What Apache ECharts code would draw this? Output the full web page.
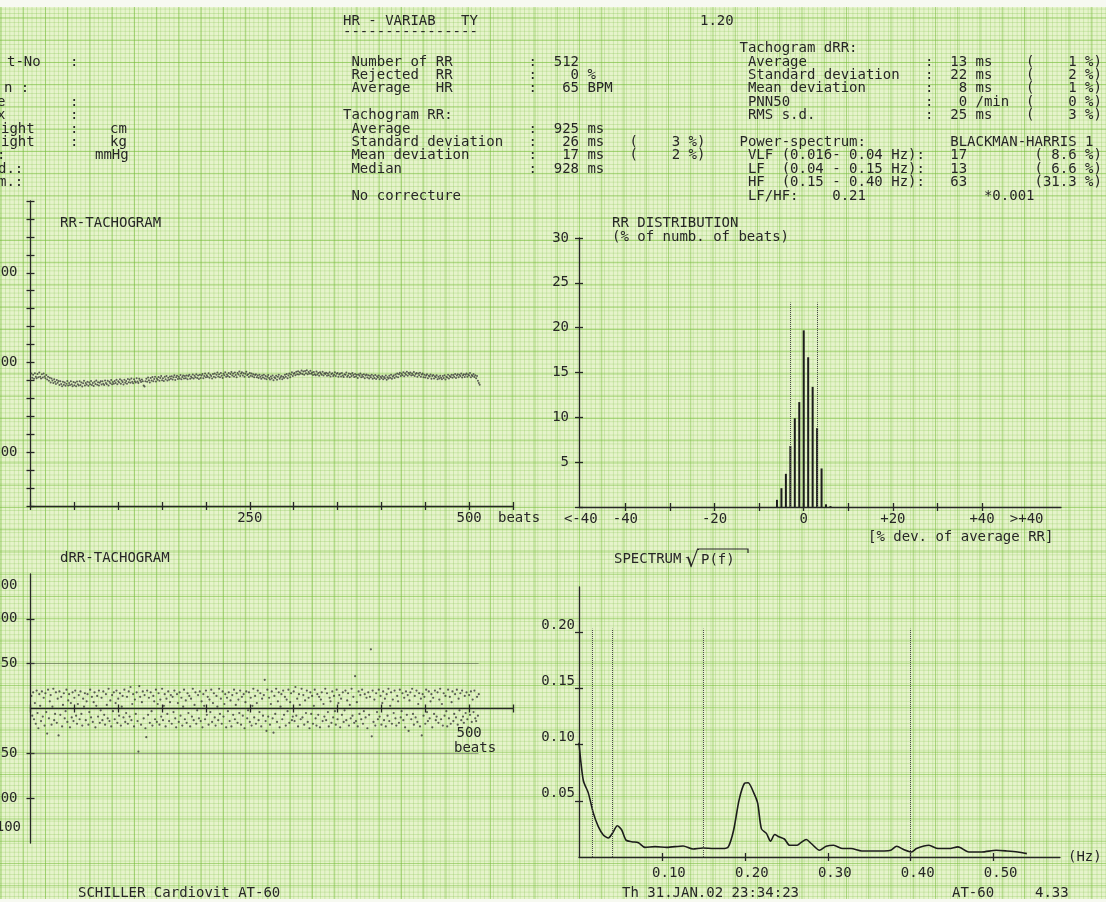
<!DOCTYPE html>
<html><head><meta charset="utf-8">
<script src="https://cdn.jsdelivr.net/npm/echarts@6/dist/echarts.min.js"></script>
<style>
html,body{margin:0;padding:0;width:1106px;height:902px;overflow:hidden;background:#f7f9f1;}
#paper{position:absolute;left:0;top:7px;width:1106px;height:892px;background-color:#e6f3cb;
background-image:
 linear-gradient(to right, rgba(118,188,58,.55) 1px, transparent 1px),
 linear-gradient(to bottom, rgba(118,188,58,.55) 1px, transparent 1px),
 linear-gradient(to right, rgba(140,200,90,.33) 1px, transparent 1px),
 linear-gradient(to bottom, rgba(140,200,90,.33) 1px, transparent 1px);
background-size:22.25px 22.25px,22.25px 22.25px,4.45px 4.45px,4.45px 4.45px;
background-position:0.5px 10.5px,0.5px 10.5px,0.5px 10.5px,0.5px 10.5px;}
#chart{position:absolute;left:0;top:0;width:1106px;height:902px;}
</style></head><body><div id="paper"></div><div id="chart"></div>
<script>
// ---------- data ----------
const rrValues = [
938,915,931,909,940,921,912,936,918,944,920,911,934,916,939,922,
912,930,905,921,898,915,889,910,900,885,906,893,880,902,887,897,
874,895,880,868,893,876,889,870,882,897,871,886,874,895,879,868,
891,873,887,868,894,879,871,896,875,889,866,884,898,872,885,877,
893,870,888,879,897,874,886,869,892,880,899,876,890,871,887,895,
877,896,882,874,900,886,879,898,871,893,884,902,878,891,881,897,
885,903,879,896,888,906,881,899,891,877,904,887,897,882,908,890,
903,887,910,893,884,907,896,889,912,894,886,909,899,891,905,896,
872,866,895,909,893,916,901,889,914,899,919,896,908,921,894,911,
903,919,898,914,924,901,912,897,920,906,925,900,915,904,922,909,
923,905,918,929,902,917,926,908,921,911,930,906,919,927,910,924,
912,928,907,924,931,909,922,915,933,910,926,918,935,913,927,908,
931,914,928,936,912,925,938,917,929,920,940,915,932,924,911,936,
920,939,916,931,944,922,935,918,941,926,913,937,929,945,921,933,
925,942,919,936,947,928,939,922,944,930,918,941,933,949,924,938,
946,927,940,921,937,948,929,935,919,942,926,938,923,934,917,930,
935,918,928,914,931,920,909,927,916,932,911,925,906,921,930,913,
905,922,910,927,901,918,912,926,903,920,931,909,917,925,906,921,
914,931,920,936,912,928,939,918,933,945,924,937,942,929,948,934,
951,933,946,938,955,936,949,931,953,940,957,934,947,939,954,937,
944,930,947,935,929,950,933,942,926,945,938,931,948,927,940,936,
943,926,938,929,945,922,936,940,924,931,946,925,937,941,921,933,
938,922,941,927,919,935,932,944,921,928,939,917,936,925,942,930,
919,936,922,931,914,933,926,938,917,930,921,935,912,928,933,916,
929,911,926,917,932,909,924,914,930,908,923,916,928,906,921,913,
925,906,919,912,927,903,918,911,926,915,931,909,922,928,914,933,
922,939,917,934,943,925,937,929,946,923,940,932,948,926,941,935,
944,927,939,930,947,924,936,941,921,938,929,943,920,933,939,918,
931,916,928,935,912,926,922,933,909,924,930,911,923,918,929,907,
921,910,926,915,907,924,913,929,905,920,916,931,911,925,919,932,
915,930,921,936,913,927,934,918,932,924,938,916,929,935,919,931,
938,920,933,927,941,917,930,924,936,919,929,912,924,898,885,876
];
const drrValues = [
14,-8,18,-12,6,-17,20,-5,-22,16,3,-14,19,-9,12,-19,
17,-4,-28,21,-11,8,15,-18,2,22,-13,-6,18,-16,11,-30,
19,-7,13,-20,4,17,-11,-3,21,-15,9,16,-21,6,-10,18,
-14,12,20,-8,-17,5,15,-12,19,-6,-19,11,2,17,-13,8,
16,-18,-4,21,-10,13,-15,7,18,-21,3,14,-9,20,-16,-2,
12,-13,19,-7,-18,16,4,-11,22,-14,9,-20,15,-3,18,-12,
6,20,-16,11,-8,17,-19,2,14,-10,21,-15,-5,13,-17,19,
-9,24,-13,5,16,-20,10,-6,18,-14,-48,25,13,-18,7,19,
-11,15,-22,-32,20,-7,12,-16,18,-3,-19,14,8,-12,21,-15,
5,17,-18,10,-9,22,-13,3,16,-20,11,-6,19,-14,7,15,
-17,13,-4,20,-11,-21,16,6,-15,18,-8,12,-19,2,21,-12,
9,-16,17,-5,14,-20,11,-9,22,-13,4,18,-17,-2,15,-11,
19,-14,8,-21,16,3,-12,20,-7,13,-18,10,-4,21,-15,6,
17,-10,-19,14,2,-13,22,-6,11,-17,19,-9,5,16,-21,12,
-3,18,-14,9,-20,15,-7,21,-12,4,17,-16,10,-5,20,-18,
13,-8,16,-22,7,19,-11,-2,18,-15,12,-19,3,22,-10,14,
-17,6,20,-13,-4,17,-20,11,-8,15,32,-14,-25,21,-9,12,
-18,5,19,-11,-27,14,-6,22,-15,8,18,-21,2,16,-12,20,
-7,13,-19,10,-3,21,-16,7,17,-13,-9,19,-14,24,-8,11,
-20,16,4,-12,22,-10,15,-18,9,-5,20,-15,12,-22,18,-6,
14,-17,3,21,-11,-19,16,-7,13,-21,10,18,-14,5,-9,22,
-13,17,-4,-20,12,8,-16,19,-10,14,-3,-18,21,-12,6,15,
-21,11,-7,18,-15,-2,20,-13,9,17,-19,4,-11,22,-8,13,
-16,36,-14,7,-20,19,-6,15,-12,21,-17,-3,16,-10,12,-22,
18,-7,13,66,-31,20,-15,10,-19,17,-4,-12,21,-9,14,-18,
6,19,-13,11,-20,16,-8,22,-14,3,18,-17,10,-5,20,-11,
-19,14,8,-16,21,-10,-3,17,-13,12,-21,19,-7,15,-25,9,
18,-12,22,-6,-18,14,-10,20,-15,5,17,-20,11,-30,16,-8,
13,-17,21,-4,-14,19,-11,8,16,-21,12,-6,20,-13,-9,18,
-16,10,22,-12,5,-19,17,-8,14,-3,-20,21,-11,13,-17,7,
19,-14,-6,16,-10,21,-18,11,-2,17,-13,20,-9,-16,14,-5,
18,-12,-21,15,-7,19,-15,10,-4,20,-11,-14,13,-8,16
];
const histBins = [-6,-5,-4,-3,-2,-1,0,1,2,3,4,5,6];
const histPct  = [0.8,2.1,3.7,6.8,9.9,11.7,19.7,16.7,13.4,8.8,4.3,0.3,0.1];
const histSdLines = [-3, 3];
const specFreq = [0,0.0052,0.0112,0.0173,0.0233,0.0293,0.0354,0.0414,0.0462,0.0515,0.0567,0.0636,0.0716,0.0796,0.0917,0.1058,0.1255,0.1375,
 0.149,0.1625,0.173,0.18,0.1865,0.193,0.1996,0.204,0.211,0.2155,0.22,0.226,0.231,0.236,0.241,0.2476,0.254,0.263,0.268,0.274,0.280,0.29,0.298,0.307,
 0.318,0.328,0.341,0.355,0.368,0.376,0.383,0.392,0.401,0.407,0.422,0.433,0.446,0.457,0.470,0.4855,0.503,0.516,0.529,0.540];
const specAmp = [0.1016,0.068,0.057,0.039,0.027,0.0196,0.0169,0.0225,0.0278,0.024,0.015,0.0136,0.0127,0.0086,0.0092,0.0086,0.0098,0.0071,
 0.008,0.0075,0.0075,0.009,0.024,0.0506,0.0655,0.066,0.0565,0.0476,0.025,0.021,0.014,0.020,0.018,0.016,0.0104,0.0104,0.013,0.0155,0.012,0.006,0.0095,0.0104,
 0.0075,0.0075,0.0054,0.0054,0.0054,0.006,0.0095,0.0065,0.0045,0.0075,0.0104,0.0075,0.0075,0.009,0.0045,0.0045,0.006,0.0054,0.0045,0.003];
const specBandLines = [0.016, 0.04, 0.15, 0.40];
const specBandTop = 0.203;
const histSdTop = 22.8;
const drrLimitLines = [50, -50];
const beatLabels = [250, 500];
const rrYLabels = [500, 1000, 1500];
const histXTicks = [-40,-30,-20,-10,0,10,20,30,40];
const histXLabelValues = [-50,-40,-20,0,20,40,50];
const histXLabelText = ['<-40','-40','-20','0','+20','+40','>+40'];
const drrYTicks = [-100,-50,50,100];
const drrYLabels = [100,50,-50,-100];
const specXTicks = [0.1,0.2,0.3,0.4,0.5];
const specYTicks = [0.05,0.10,0.15,0.20];

// ---------- styling ----------
const FONT = '"DejaVu Sans Mono","Liberation Mono",monospace';
const INK = '#262626';
const lblStyle = {fontFamily: FONT, fontSize: 14, color: INK};

function axisPair(gi, o) {
  const base = {type: 'value', gridIndex: gi, min: o.min, max: o.max, splitLine: {show: false},
    position: o.position, silent: true, offset: o.offset || 0};
  if (o.interval !== undefined) base.interval = o.interval;
  const tick = {show: true, length: 4, lineStyle: {color: INK, width: 1.3}};
  if (o.ticks) tick.customValues = o.ticks;
  const lbl = Object.assign({show: true, margin: o.margin || 8, formatter: o.fmt, hideOverlap: false}, lblStyle, o.label || {});
  if (o.labels) lbl.customValues = o.labels;
  const main = Object.assign({}, base, {
    axisLine: {show: true, onZero: o.onZero !== false, lineStyle: {color: INK, width: 1.3}},
    axisTick: Object.assign({}, tick, {inside: false}),
    axisLabel: lbl
  });
  const twin = Object.assign({}, base, {
    axisLine: {show: false, onZero: o.onZero !== false},
    axisTick: Object.assign({}, tick, {inside: true}),
    axisLabel: {show: false}
  });
  return [main, twin];
}

const xA = [], yA = [];
// grid 0 : RR tachogram
xA.push(...axisPair(0, {min: 0, max: 550, interval: 50, position: 'bottom', margin: 5, onZero: false,
  fmt: v => beatLabels.includes(v) ? String(v) : ''}));
yA.push(...axisPair(0, {min: 200, max: 1900, interval: 100, position: 'left', margin: 13, onZero: false,
  fmt: v => rrYLabels.includes(v) ? String(v) : ''}));
// grid 1 : RR distribution
xA.push(...axisPair(1, {min: -50.4, max: 57.7, ticks: histXTicks, labels: histXLabelValues, position: 'bottom', margin: 5, onZero: false,
  fmt: v => { const i = histXLabelValues.indexOf(Math.round(v)); return i >= 0 ? histXLabelText[i] : ''; }}));
yA.push(...axisPair(1, {min: 0, max: 30, interval: 5, position: 'left', margin: 10, onZero: false,
  fmt: v => v === 0 ? '' : String(v)}));
// grid 2 : dRR tachogram (x axis drawn through zero)
xA.push(...axisPair(2, {min: 0, max: 550, interval: 50, position: 'bottom', margin: 18, onZero: false, offset: -134.5,
  fmt: v => v === 500 ? '500' : ''}));
yA.push(...axisPair(2, {min: -150, max: 150, ticks: drrYTicks, labels: drrYLabels, position: 'left', margin: 13, onZero: false,
  fmt: v => String(v)}));
// grid 3 : spectrum
xA.push(...axisPair(3, {min: 0, max: 0.58, ticks: specXTicks, labels: specXTicks, position: 'bottom', margin: 9, onZero: false,
  fmt: v => v.toFixed(2), label: {padding: [0, 0, 0, 14]}}));
yA.push(...axisPair(3, {min: 0, max: 0.24, ticks: specYTicks, labels: specYTicks, position: 'left', margin: 4, onZero: false,
  fmt: v => v.toFixed(2), label: {verticalAlign: 'bottom'}}));

const ml = (data) => ({symbol: ['none', 'none'], silent: true, animation: false, label: {show: false},
  lineStyle: {type: 'dotted', color: '#4a4a4a', width: 1}, emphasis: {disabled: true}, data: data});

const series = [
  {type: 'scatter', xAxisIndex: 0, yAxisIndex: 0, symbolSize: 2, silent: true,
   itemStyle: {color: '#3a3a3a', opacity: 0.8}, data: rrValues.map((v, i) => [i + 1, v])},
  {type: 'bar', xAxisIndex: 2, yAxisIndex: 2, barWidth: 2, silent: true,
   itemStyle: {color: '#1c1c1c'}, data: histBins.map((b, i) => [b, histPct[i]]),
   markLine: ml(histSdLines.map(x => [{coord: [x, 0]}, {coord: [x, histSdTop]}]))},
  {type: 'scatter', xAxisIndex: 4, yAxisIndex: 4, symbolSize: 2.2, silent: true,
   itemStyle: {color: '#383838', opacity: 0.8}, data: drrValues.map((v, i) => [i + 1, v]),
   markLine: ml(drrLimitLines.map(y => [{coord: [0, y]}, {coord: [511, y]}]))},
  {type: 'line', xAxisIndex: 6, yAxisIndex: 6, showSymbol: false, smooth: 0.25, silent: true,
   lineStyle: {color: '#1c1c1c', width: 1.6}, data: specFreq.map((f, i) => [f, specAmp[i]]),
   markLine: ml(specBandLines.map(x => [{coord: [x, 0]}, {coord: [x, specBandTop]}]))}
];

// ---------- printed text ----------
function rowText(parts) { let s = ''; parts.forEach(([c, t]) => { while (s.length < c) s += ' '; s += t; }); return s; }
const rowY = r => 48.6 + 13.4 * r;
const midRows = [
  [1, [[1, 'Number of RR'], [22, ':'], [25, '512']]],
  [2, [[1, 'Rejected  RR'], [22, ':'], [27, '0 %']]],
  [3, [[1, 'Average   HR'], [22, ':'], [26, '65 BPM']]],
  [5, [[0, 'Tachogram RR:']]],
  [6, [[1, 'Average'], [22, ':'], [25, '925 ms']]],
  [7, [[1, 'Standard deviation'], [22, ':'], [26, '26 ms'], [34, '(    3 %)']]],
  [8, [[1, 'Mean deviation'], [22, ':'], [26, '17 ms'], [34, '(    2 %)']]],
  [9, [[1, 'Median'], [22, ':'], [25, '928 ms']]],
  [11, [[1, 'No correcture']]]
];
const rightRows = [
  [0, [[0, 'Tachogram dRR:']]],
  [1, [[1, 'Average'], [22, ':'], [25, '13 ms'], [34, '(    1 %)']]],
  [2, [[1, 'Standard deviation'], [22, ':'], [25, '22 ms'], [34, '(    2 %)']]],
  [3, [[1, 'Mean deviation'], [22, ':'], [26, '8 ms'], [34, '(    1 %)']]],
  [4, [[1, 'PNN50'], [22, ':'], [26, '0 /min'], [34, '(    0 %)']]],
  [5, [[1, 'RMS s.d.'], [22, ':'], [25, '25 ms'], [34, '(    3 %)']]],
  [7, [[0, 'Power-spectrum:'], [25, 'BLACKMAN-HARRIS 1']]],
  [8, [[1, 'VLF (0.016- 0.04 Hz):'], [25, '17'], [35, '( 8.6 %)']]],
  [9, [[1, 'LF  (0.04 - 0.15 Hz):'], [25, '13'], [35, '( 6.6 %)']]],
  [10, [[1, 'HF  (0.15 - 0.40 Hz):'], [25, '63'], [35, '(31.3 %)']]],
  [11, [[1, 'LF/HF:'], [11, '0.21'], [29, '*0.001']]]
];
const leftRows = [
  [1, 7, 't-No'], [1, 70, ':'],
  [3, 4, 'n :'],
  [4, -3, 'e'], [4, 70, ':'],
  [5, -3, 'x'], [5, 70, ':'],
  [6, 1, 'ight'], [6, 70, ':'], [6, 110, 'cm'],
  [7, 1, 'ight'], [7, 70, ':'], [7, 110, 'kg'],
  [8, -3, ':'], [8, 95, 'mmHg'],
  [9, -2, 'd.:'],
  [10, -2, 'm.:']
];

const T = (x, y, text, extra) => ({type: 'text', x: x, y: y, silent: true,
  style: Object.assign({text: text, font: '14px ' + FONT, fill: INK, align: 'left', verticalAlign: 'middle'}, extra || {})});

const graphic = [];
graphic.push(T(343, rowY(-2), 'HR - VARIAB   TY'));
graphic.push(T(700, rowY(-2), '1.20'));
graphic.push(T(343, 32.5, '----------------'));
midRows.forEach(([r, parts]) => graphic.push(T(343, rowY(r), rowText(parts))));
rightRows.forEach(([r, parts]) => graphic.push(T(739.5, rowY(r), rowText(parts))));
leftRows.forEach(([r, x, t]) => graphic.push(T(x, rowY(r), t)));
// panel titles
graphic.push(T(60, 223, 'RR-TACHOGRAM'));
graphic.push(T(612, 223, 'RR DISTRIBUTION'));
graphic.push(T(612, 237, '(% of numb. of beats)'));
graphic.push(T(60, 558, 'dRR-TACHOGRAM'));
graphic.push(T(614, 559, 'SPECTRUM'));
graphic.push(T(685, 561, '\u221A', {font: '22px "DejaVu Sans"'}));
graphic.push(T(701, 560, 'P(f)'));
graphic.push({type: 'polyline', silent: true, shape: {points: [[697, 549], [748, 549], [748, 553]]},
  style: {stroke: INK, lineWidth: 1.2, fill: null}});
// axis units
graphic.push(T(498, 518, 'beats'));
graphic.push(T(454, 748, 'beats'));
graphic.push(T(868, 537, '[% dev. of average RR]'));
graphic.push(T(1068, 857, '(Hz)'));
// cut-off labels of the dRR scale
graphic.push(T(17.5, 585, '200', {align: 'right'}));
graphic.push(T(21, 827, '100', {align: 'right'}));
// footer
graphic.push(T(78, 893, 'SCHILLER Cardiovit AT-60'));
graphic.push(T(622, 893, 'Th 31.JAN.02 23:34:23'));
graphic.push(T(952, 893, 'AT-60'));
graphic.push(T(1035, 893, '4.33'));

const gridBase = {containLabel: false, outerBoundsMode: 'none'};
const option = {
  animation: false,
  backgroundColor: 'transparent',
  grid: [
    Object.assign({left: 30.5, top: 201, width: 482.5, height: 305}, gridBase),
    Object.assign({left: 579, top: 238, width: 482, height: 269}, gridBase),
    Object.assign({left: 30.5, top: 574, width: 482.5, height: 269}, gridBase),
    Object.assign({left: 579, top: 587, width: 481, height: 270}, gridBase)
  ],
  xAxis: xA, yAxis: yA, series: series, graphic: graphic
};
const chart = echarts.init(document.getElementById('chart'), null, {renderer: 'canvas'});
chart.setOption(option);
</script></body></html>
